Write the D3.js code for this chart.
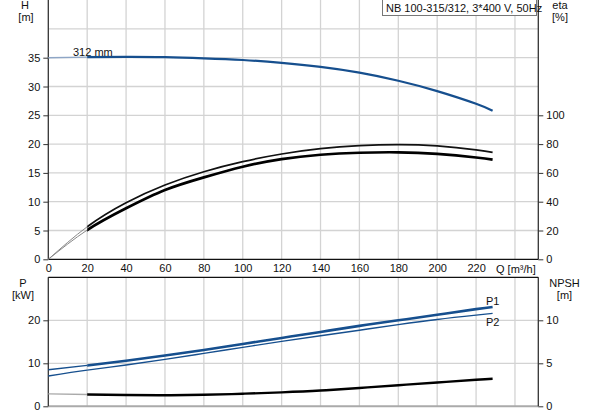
<!DOCTYPE html>
<html><head><meta charset="utf-8">
<script src="https://cdn.jsdelivr.net/npm/d3@7"></script>
<style>
html,body{margin:0;padding:0;background:#fff;}
svg text{font-family:"Liberation Sans",Arial,sans-serif;font-size:11px;fill:#111;}
</style></head>
<body>
<svg id="c" width="593" height="415"></svg>
<script>
const title = "NB 100-315/312, 3*400 V, 50Hz";
const qTicks = [0,20,40,60,80,100,120,140,160,180,200,220];
const qGrid = [20,40,60,80,100,120,140,160,180,200,220,240];
const hTicks = [0,5,10,15,20,25,30,35];
const hGrid = [5,10,15,20,25,30,35,40];
const etaTicks = [0,20,40,60,80,100];
const pTicks = [0,10,20];
const npshTicks = [0,5,10];
const Q = [0,20,40,60,80,100,120,140,160,180,200,220,228.5];
const H = [35.0,35.1,35.15,35.1,34.9,34.6,34.1,33.4,32.4,31.0,29.2,27.0,25.8];
const eta1 = [0,22.6,39.3,51.6,60.8,67.8,73.1,76.8,78.9,79.6,78.7,76.0,74.2];
const eta2 = [0,20.3,35.4,48.1,56.9,64.3,69.6,72.6,74.0,74.3,73.2,70.7,69.2];
const P1 = [8.5,9.5,10.6,11.8,13.1,14.5,15.9,17.3,18.7,20.0,21.3,22.6,23.1];
const P2 = [7.05,8.4,9.6,10.9,12.3,13.7,15.1,16.4,17.7,19.0,20.2,21.2,21.6];
const NPSH = [1.45,1.37,1.31,1.29,1.34,1.46,1.62,1.83,2.13,2.45,2.77,3.09,3.2];

const svg = d3.select("#c");
const x = d3.scaleLinear().domain([0,252]).range([48.3,538.3]);
const yH = d3.scaleLinear().domain([0,45]).range([259.3,0.1]);
const yEta = d3.scaleLinear().domain([0,180]).range([259.3,0.1]);
const yP = d3.scaleLinear().domain([0,30]).range([406.3,277.3]);
const yN = d3.scaleLinear().domain([0,15]).range([406.3,277.3]);
const blue = "#164f8e", grid = "#d3d3d3", axisC = "#333";

const defs = svg.append("defs");
defs.append("clipPath").attr("id","cA").append("rect")
  .attr("x",0).attr("y",0).attr("width",x(20)).attr("height",415);
defs.append("clipPath").attr("id","cB").append("rect")
  .attr("x",x(20)).attr("y",0).attr("width",593).attr("height",415);

// ---- top panel grid
const gT = svg.append("g");
gT.selectAll(".vg").data(qGrid).join("line")
  .attr("x1",d=>x(d)).attr("x2",d=>x(d)).attr("y1",0).attr("y2",yH(0))
  .attr("stroke",grid).attr("stroke-width",1.3);
gT.selectAll(".hg").data(hGrid).join("line")
  .attr("x1",x(0)).attr("x2",x(252)).attr("y1",d=>yH(d)).attr("y2",d=>yH(d))
  .attr("stroke",grid).attr("stroke-width",1.3);

// ---- bottom panel grid
const gB = svg.append("g");
gB.selectAll(".vg").data(qGrid).join("line")
  .attr("x1",d=>x(d)).attr("x2",d=>x(d)).attr("y1",yP(30)).attr("y2",yP(0))
  .attr("stroke",grid).attr("stroke-width",1.3);
gB.selectAll(".hg").data([10,20]).join("line")
  .attr("x1",x(0)).attr("x2",x(252)).attr("y1",d=>yP(d)).attr("y2",d=>yP(d))
  .attr("stroke",grid).attr("stroke-width",1.3);
gB.append("line").attr("x1",x(0)).attr("x2",x(252)).attr("y1",yP(0)).attr("y2",yP(0))
  .attr("stroke","#aaa").attr("stroke-width",2);

// ---- axes top
const axL = d3.axisLeft(yH).tickValues(hTicks).tickSize(5).tickPadding(3);
const gL = svg.append("g").attr("transform",`translate(${x(0)},0)`).call(axL);
const axR = d3.axisRight(yEta).tickValues(etaTicks).tickSize(5).tickPadding(3);
const gR = svg.append("g").attr("transform",`translate(${x(252)},0)`).call(axR);
const axX = d3.axisBottom(x).tickValues(qTicks).tickSize(0).tickPadding(5);
const gX = svg.append("g").attr("transform",`translate(0,${yH(0)})`).call(axX);
// ---- axes bottom
const axPL = d3.axisLeft(yP).tickValues(pTicks).tickSize(5).tickPadding(3);
const gPL = svg.append("g").attr("transform",`translate(${x(0)},0)`).call(axPL);
const axNR = d3.axisRight(yN).tickValues(npshTicks).tickSize(5).tickPadding(3);
const gNR = svg.append("g").attr("transform",`translate(${x(252)},0)`).call(axNR);
svg.append("line").attr("x1",x(0)).attr("x2",x(252)).attr("y1",yP(30)).attr("y2",yP(30))
  .attr("stroke","#111").attr("stroke-width",1.3);

[gL,gR,gX,gPL,gNR].forEach(g=>{
  g.select(".domain").attr("stroke",axisC).attr("stroke-width",1.3);
  g.selectAll(".tick line").attr("stroke",axisC);
  g.selectAll(".tick text").attr("font-size",11).attr("font-family","Liberation Sans, Arial, sans-serif").attr("fill","#111");
});
gL.select(".domain").attr("d",`M0,0V${yH(0)}`);
gR.select(".domain").attr("d",`M0,0V${yH(0)}`);
gX.select(".domain").attr("d",`M${x(0)},0H${x(252)}`).attr("stroke","#111");
gPL.select(".domain").attr("d",`M0,${yP(30)}V${yP(0)}`);
gNR.select(".domain").attr("d",`M0,${yP(30)}V${yP(0)}`);

// ---- curves
const mk = (ys, sy) => d3.line().x((d,i)=>x(Q[i])).y((d,i)=>sy(ys[i])).curve(d3.curveNatural)(Q);
function curve(ys, sy, thinColor, thinW, mainColor, mainW){
  svg.append("path").attr("d",mk(ys,sy)).attr("clip-path","url(#cA)")
    .attr("fill","none").attr("stroke",thinColor).attr("stroke-width",thinW);
  svg.append("path").attr("d",mk(ys,sy)).attr("clip-path","url(#cB)")
    .attr("fill","none").attr("stroke",mainColor).attr("stroke-width",mainW);
}
curve(H, yH, "#8ea6c6", 1.4, blue, 2.2);
curve(eta1, yEta, "#888", 1, "#111", 1.7);
curve(eta2, yEta, "#888", 1, "#000", 2.7);
curve(P1, yP, blue, 1.3, blue, 2.6);
curve(P2, yP, blue, 1.3, blue, 1.4);
curve(NPSH, yN, "#aaa", 1.4, "#000", 2.4);

// ---- labels
const t = (s,xx,yy,anchor)=>svg.append("text").attr("x",xx).attr("y",yy).attr("text-anchor",anchor||"start").text(s);
t("H",25,9,"middle"); t("[m]",26,21,"middle");
t("eta",560,9,"middle"); t("[%]",560,21,"middle");
t("P",23,287,"middle"); t("[kW]",23,299,"middle");
t("NPSH",564.5,287,"middle"); t("[m]",564.5,299,"middle");
t("312 mm",73,55.5);
t("P1",486,304.5); t("P2",486,325.5);
t("Q [m³/h]",496,273);

svg.append("rect").attr("x",382.5).attr("y",-1).attr("width",154).attr("height",16.5)
  .attr("fill","#fff").attr("stroke","#777").attr("stroke-width",1);
t(title,386,12);
</script>
</body></html>
